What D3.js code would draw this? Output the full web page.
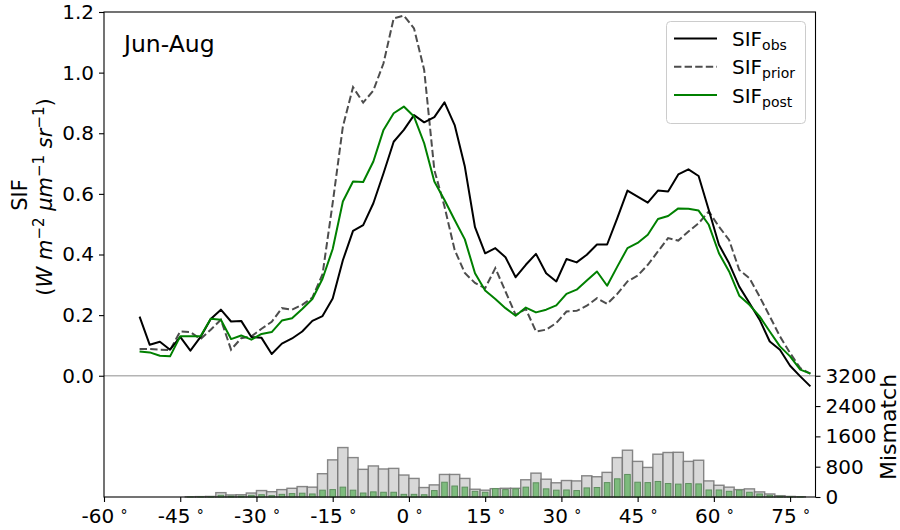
<!DOCTYPE html>
<html>
<head>
<meta charset="utf-8">
<script src="https://cdn.jsdelivr.net/npm/d3@7"></script>
<style>
  html, body { margin: 0; padding: 0; background: #fff; }
  svg { display: block; font-family: "DejaVu Sans", sans-serif; }
</style>
</head>
<body>
<svg id="chart" width="900" height="530"></svg>
<script>
// ---------------- DATA ----------------
const lats = [-53,-51,-49,-47,-45,-43,-41,-39,-37,-35,-33,-31,-29,-27,-25,-23,-21,-19,-17,-15,-13,-11,-9,-7,-5,-3,-1,
  1,3,5,7,9,11,13,15,17,19,21,23,25,27,29,31,33,35,37,39,41,43,45,47,49,51,53,55,57,59,61,63,65,67,69,71,73,75,77,79];

const sifObs = [0.195,0.102,0.112,0.086,0.128,0.083,0.128,0.187,0.218,0.179,0.181,0.128,0.125,0.072,0.106,0.123,0.146,0.181,0.197,0.255,0.381,0.478,0.497,0.569,0.668,0.772,0.811,
  0.860,0.836,0.853,0.902,0.827,0.690,0.490,0.404,0.421,0.391,0.325,0.366,0.402,0.338,0.311,0.385,0.374,0.399,0.433,0.433,0.520,0.611,0.591,0.571,0.611,0.608,0.664,0.681,0.659,0.547,0.432,0.371,0.294,0.240,0.185,0.113,0.086,0.033,-0.002,-0.035];

const sifPrior = [0.088,0.088,0.086,0.085,0.146,0.144,0.121,0.152,0.185,0.086,0.124,0.130,0.155,0.178,0.223,0.218,0.234,0.258,0.335,0.570,0.822,0.952,0.901,0.941,1.031,1.179,1.188,
  1.146,1.009,0.679,0.558,0.415,0.339,0.306,0.289,0.355,0.278,0.201,0.220,0.146,0.152,0.174,0.212,0.214,0.231,0.256,0.237,0.270,0.311,0.330,0.366,0.410,0.454,0.446,0.476,0.503,0.542,0.492,0.448,0.349,0.322,0.261,0.196,0.130,0.075,0.025,0.007];

const sifPost = [0.080,0.077,0.066,0.064,0.130,0.130,0.130,0.188,0.185,0.121,0.133,0.119,0.138,0.144,0.182,0.190,0.220,0.253,0.320,0.418,0.575,0.641,0.639,0.707,0.811,0.866,0.888,
  0.855,0.767,0.641,0.580,0.514,0.450,0.338,0.281,0.253,0.223,0.198,0.225,0.209,0.218,0.232,0.270,0.284,0.314,0.344,0.297,0.360,0.421,0.438,0.465,0.517,0.527,0.552,0.551,0.545,0.498,0.404,0.344,0.264,0.234,0.196,0.146,0.097,0.064,0.020,0.007];

const histLat = [-43,-41,-39,-37,-35,-33,-31,-29,-27,-25,-23,-21,-19,-17,-15,-13,-11,-9,-7,-5,-3,-1,
  1,3,5,7,9,11,13,15,17,19,21,23,25,27,29,31,33,35,37,39,41,43,45,47,49,51,53,55,57,59,61,63,65,67,69,71,73,75,77];

const mismatchPrior = [5,10,15,115,55,60,105,170,140,195,230,275,260,615,980,1305,1040,730,820,740,755,580,
  490,250,320,595,595,490,205,180,220,230,230,455,630,470,375,435,425,560,535,650,1040,1235,940,780,1130,1175,1180,940,970,425,310,260,195,215,135,80,35,15,8];

const mismatchPost = [2,4,6,45,25,25,45,60,35,70,90,100,80,180,195,260,180,105,135,125,125,70,
  70,60,170,390,290,260,150,125,220,195,215,260,375,215,180,185,170,240,250,380,480,595,390,380,410,355,340,355,345,185,185,150,180,125,80,45,20,8,4];

const xTicks = [-60,-45,-30,-15,0,15,30,45,60,75];
const yTicks = [0.0,0.2,0.4,0.6,0.8,1.0,1.2];
const y2Ticks = [0,800,1600,2400,3200];

// ---------------- CHART ----------------
const svg = d3.select("#chart");
const L = 104, R = 815.5, T = 12, B = 497;

const x = d3.scaleLinear().domain([-60, 80]).range([L, R]);
const y = d3.scaleLinear().domain([-0.4, 1.2]).range([B, T]);
const y2 = d3.scaleLinear().domain([0, 12800]).range([B, T]);

// histogram bars (gray = prior mismatch)
const binW = 2;
svg.append("g").selectAll("rect").data(histLat.map((c, i) => ({c, v: mismatchPrior[i]})))
  .join("rect")
  .attr("x", d => x(d.c - binW / 2))
  .attr("y", d => y2(d.v))
  .attr("width", d => x(d.c + binW / 2) - x(d.c - binW / 2))
  .attr("height", d => y2(0) - y2(d.v))
  .attr("fill", "#d8d8d8")
  .attr("stroke", "#737373")
  .attr("stroke-opacity", 0.85)
  .attr("stroke-width", 1.4);

// green bars (posterior mismatch)
const gFrac = 0.55;
svg.append("g").selectAll("rect").data(histLat.map((c, i) => ({c, v: mismatchPost[i]})))
  .join("rect")
  .attr("x", d => x(d.c - binW * gFrac / 2))
  .attr("y", d => y2(d.v))
  .attr("width", d => x(d.c + binW * gFrac / 2) - x(d.c - binW * gFrac / 2))
  .attr("height", d => y2(0) - y2(d.v))
  .attr("fill", "#7dbb7d")
  .attr("stroke", "#5e8f5e")
  .attr("stroke-width", 1);

// zero line
svg.append("line")
  .attr("x1", L).attr("x2", R)
  .attr("y1", y(0)).attr("y2", y(0))
  .attr("stroke", "#b4b4b4").attr("stroke-width", 1.5);

// lines
const line = (vals) => d3.line().x((d, i) => x(lats[i])).y(d => y(d))(vals);

svg.append("path").attr("d", line(sifPrior))
  .attr("fill", "none").attr("stroke", "#4d4d4d").attr("stroke-width", 2)
  .attr("stroke-dasharray", "7.4,3.2");
svg.append("path").attr("d", line(sifObs))
  .attr("fill", "none").attr("stroke", "#000").attr("stroke-width", 2)
  .attr("stroke-linejoin", "round");
svg.append("path").attr("d", line(sifPost))
  .attr("fill", "none").attr("stroke", "#008000").attr("stroke-width", 2)
  .attr("stroke-linejoin", "round");

// frame
svg.append("rect").attr("x", L).attr("y", T).attr("width", R - L).attr("height", B - T)
  .attr("fill", "none").attr("stroke", "#000").attr("stroke-width", 1.1);

const tickFont = 20;

// left axis (SIF)
const yAxis = svg.append("g").attr("transform", `translate(${L},0)`)
  .call(d3.axisLeft(y).tickValues(yTicks).tickFormat(d3.format(".1f")).tickSize(5).tickPadding(5));
yAxis.select(".domain").remove();
yAxis.selectAll("text").attr("font-size", tickFont).attr("font-family", "DejaVu Sans").attr("fill", "#000");
yAxis.selectAll("line").attr("stroke", "#000").attr("stroke-width", 1.1);

// right axis (Mismatch)
const y2Axis = svg.append("g").attr("transform", `translate(${R},0)`)
  .call(d3.axisRight(y2).tickValues(y2Ticks).tickFormat(d3.format("d")).tickSize(5).tickPadding(5));
y2Axis.select(".domain").remove();
y2Axis.selectAll("text").attr("font-size", tickFont).attr("font-family", "DejaVu Sans").attr("fill", "#000");
y2Axis.selectAll("line").attr("stroke", "#000").attr("stroke-width", 1.1);

// bottom axis
const xAxis = svg.append("g").attr("transform", `translate(0,${B})`)
  .call(d3.axisBottom(x).tickValues(xTicks).tickFormat("").tickSize(5));
xAxis.select(".domain").remove();
xAxis.selectAll("line").attr("stroke", "#000").attr("stroke-width", 1.1);
xAxis.selectAll(".tick").append("text")
  .attr("y", 26).attr("text-anchor", "middle").attr("fill", "#000")
  .attr("font-size", tickFont).attr("font-family", "DejaVu Sans")
  .each(function(d) {
    const t = d3.select(this);
    t.append("tspan").text(String(d) + " ");
    t.append("tspan").text("°").attr("font-size", 14).attr("dy", -3);
  });

// y label (two lines)
const labFont = 21;
const ylab = svg.append("g");
ylab.append("text")
  .attr("transform", "translate(27,195) rotate(-90)")
  .attr("text-anchor", "middle").attr("font-size", labFont).text("SIF");
const unit = ylab.append("text")
  .attr("transform", "translate(52,197) rotate(-90)")
  .attr("text-anchor", "middle").attr("font-size", labFont);
unit.append("tspan").text("(");
unit.append("tspan").attr("font-style", "italic").text("W m");
unit.append("tspan").attr("font-size", 15).attr("dy", -8.5).text("−2");
unit.append("tspan").attr("font-style", "italic").attr("dy", 8.5).text(" μm");
unit.append("tspan").attr("font-size", 15).attr("dy", -8.5).text("−1");
unit.append("tspan").attr("font-style", "italic").attr("dy", 8.5).text(" sr");
unit.append("tspan").attr("font-size", 15).attr("dy", -8.5).text("−1");
unit.append("tspan").attr("dy", 8.5).text(")");

// right label
svg.append("text")
  .attr("transform", "translate(896,427) rotate(-90)")
  .attr("text-anchor", "middle").attr("font-size", 22).text("Mismatch");

// season label
svg.append("text").attr("x", 124).attr("y", 52).attr("font-size", 23.5).text("Jun-Aug");

// legend
const lg = svg.append("g");
lg.append("rect").attr("x", 666.5).attr("y", 21.5).attr("width", 139).attr("height", 102)
  .attr("rx", 4).attr("fill", "#fff").attr("fill-opacity", 0.85)
  .attr("stroke", "#cccccc").attr("stroke-width", 1);
const legItems = [
  {name: "obs", color: "#000", dash: null},
  {name: "prior", color: "#4d4d4d", dash: "7.4,3.2"},
  {name: "post", color: "#008000", dash: null}
];
legItems.forEach((it, i) => {
  const cy = 38.5 + i * 28.3;
  lg.append("line").attr("x1", 674).attr("x2", 717).attr("y1", cy).attr("y2", cy)
    .attr("stroke", it.color).attr("stroke-width", 2)
    .attr("stroke-dasharray", it.dash);
  const t = lg.append("text").attr("x", 732).attr("y", cy + 7.5).attr("font-size", 20);
  t.append("tspan").text("SIF");
  t.append("tspan").attr("font-size", 14).attr("dy", 4).text(it.name);
});
</script>
</body>
</html>
